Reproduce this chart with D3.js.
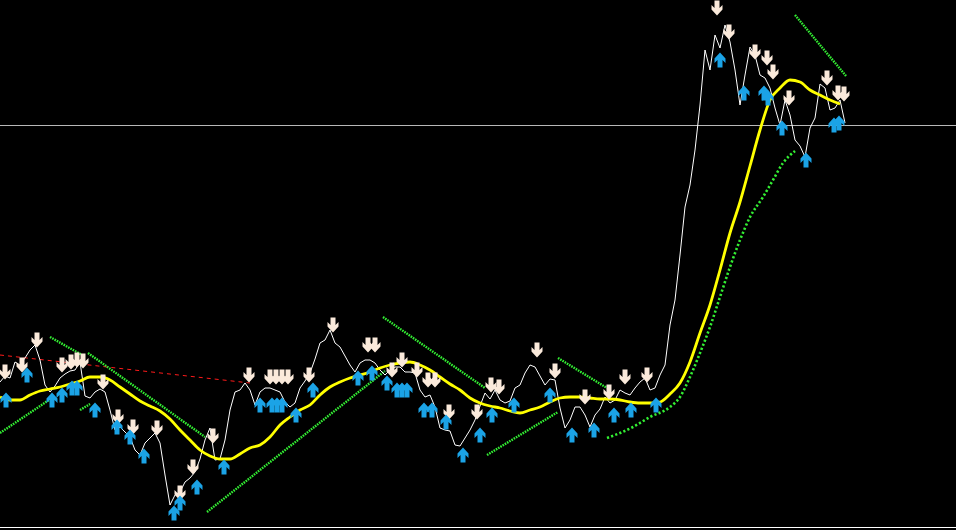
<!DOCTYPE html>
<html><head><meta charset="utf-8">
<script src="https://cdn.jsdelivr.net/npm/d3@7"></script>
<style>html,body{margin:0;padding:0;background:#000;overflow:hidden}</style>
</head><body>
<svg id="chart" width="956" height="530"></svg>
<script>
// Close prices (points), one per bar
const closes = [
145,151,149,165,162,169,177,182,167,142,
135,141,149,153,156,157,165,131,129,135,
138,135,117,97,100,95,90,77,72,84,
89,94,84,52,22,32,35,45,49,55,
68,87,99,67,68,87,117,135,137,144,
137,122,135,139,139,137,135,125,120,124,
139,146,154,168,184,187,197,184,180,171,
162,155,164,167,167,164,157,152,157,160,
160,155,155,154,137,130,132,120,99,97,
96,82,81,89,97,107,121,134,128,137,
127,124,126,139,142,154,162,160,151,142,
148,147,119,99,107,120,120,112,100,112,
118,130,124,127,137,134,132,139,145,149,
137,139,152,162,202,227,272,320,342,377,
422,477,457,492,479,502,485,457,422,452,
480,472,452,449,439,419,402,427,412,387,
381,370,399,409,443,439,417,419,427,404
];
// Moving average, one value every 2 bars
const maStep = 2;
const maValues = [
130,127,127,132,136,138,140,143,146,150,
150,147,140,133,126,121,116,108,97,87,
77,71,68,68,73,79,82,90,102,110,
117,122,132,140,145,149,152,155,159,162,
164,165,162,157,150,143,137,129,124,121,
119,116,114,117,120,125,129,130,130,129,
128,128,127,125,124,124,125,133,144,165,
194,222,257,294,325,361,397,427,439,447,
445,437,432,427,423
];
// Trend channel segments [bar, price]
const greenLines = [
  [[0,94],[10.4,129]],
  [[16,117],[18,123]],
  [[10,190],[16.4,172]],
  [[17.6,174],[41,90]],
  [[41.4,15],[77,156]],
  [[76.6,210],[97,139]],
  [[97.4,72],[111.6,115]],
  [[111.6,169],[121.4,139]],
  [[159,512],[169.2,451]]
];
const bandBars   = [121.4,126.6,130,134,136,138,140,142,144,146,148,150,152.6,154.6,156.6,159];
const bandValues = [89,100,110,120,130,150,174,200,230,260,287,310,330,347,364,376];
const redLine = [[0,172],[50,144]];
const levelPrice = 402;
// Signals [bar, price]
const downSignals = [
[1,155],[4.4,162],[7.4,187],[12.4,162],[14.2,165],[15.4,167],[16.6,166],[20.6,145],
[23.6,110],[26.6,100],[31.4,99],[36,34],[38.6,60],[42.6,91],[49.8,152],
[54,150],[55.2,150],[56.4,150],[57.6,150],[61.8,152],[66.6,202],[73.6,182],[75,182],
[78.4,157],[80.4,167],[83.4,157],[85.6,147],[87,147],[89.8,115],[95.4,115],
[98.2,142],[99.8,140],[107.4,177],[111,156],[117,130],[121.8,135],[125,150],[129.4,152],
[143.4,519],[145.8,495],[151,475],[153.4,469],[154.6,455],[157.8,429],[165.4,449],
[167.6,434],[168.8,433]
];
const upSignals = [
[1.2,127],[5.4,152],[10.4,127],[12.4,132],[14.4,139],[15.4,139],[19,117],[23.4,100],
[26,90],[28.8,71],[34.8,14],[36,24],[39.4,40],[44.8,60],[52,122],[54.4,122],[55.4,122],
[56.4,122],[59.2,112],[62.6,137],[71.6,149],[74.4,154],[77.4,144],[79.4,137],[80.4,137],
[81.4,137],[84.8,117],[86.4,117],[89.2,105],[92.6,72],[96,92],[98.4,112],[102.8,122],
[110,132],[114.4,92],[118.8,97],[122.8,112],[126.2,117],[131.2,122],
[144,467],[148.8,434],[152.8,434],[153.6,429],[156.4,399],[161.2,367],[166.8,402],[167.8,404]
];

const W = 956, H = 530, plotBottom = 527;
const svg = d3.select('#chart');
const x = d3.scaleLinear().domain([0, closes.length - 1]).range([0, 845]);
const y = d3.scaleLinear().domain([0, 527]).range([plotBottom, 0]);

// level line
svg.append('line').attr('x1',0).attr('x2',W).attr('y1',y(levelPrice)+0.5).attr('y2',y(levelPrice)+0.5)
  .attr('stroke','#b8b8b8').attr('stroke-width',1);
// bottom frame
svg.append('line').attr('x1',0).attr('x2',W).attr('y1',plotBottom+0.5).attr('y2',plotBottom+0.5)
  .attr('stroke','#ffffff').attr('stroke-width',1);

const seg = d3.line().x(d=>x(d[0])).y(d=>y(d[1]));
// red dashed
svg.append('path').attr('d', seg(redLine)).attr('fill','none')
  .attr('stroke','#ff1a1a').attr('stroke-width',1).attr('stroke-dasharray','4,4');

// green dotted
greenLines.forEach(l=>{
  svg.append('path').attr('d', seg(l)).attr('fill','none')
    .attr('stroke','#33ee33').attr('stroke-width',2.4).attr('stroke-dasharray','1.6,1');
});
svg.append('path').attr('d', d3.line().curve(d3.curveMonotoneX)
    .x((d,i)=>x(bandBars[i])).y(d=>y(d))(bandValues)).attr('fill','none')
  .attr('stroke','#33ee33').attr('stroke-width',2.6).attr('stroke-dasharray','2.2,2.2');

// price
svg.append('path').attr('d', d3.line().x((d,i)=>x(i)).y(d=>y(d))(closes))
  .attr('fill','none').attr('stroke','#ffffff').attr('stroke-width',1);

// MA
svg.append('path').attr('d', d3.line().curve(d3.curveMonotoneX)
    .x((d,i)=>x(i*maStep)).y(d=>y(d))(maValues))
  .attr('fill','none').attr('stroke','#ffff00').attr('stroke-width',2.8);

// arrows
const downPath = 'M-2.5,-7.5L2.5,-7.5L2.5,0L5.5,-3L5.5,1.5L0,7.5L-5.5,1.5L-5.5,-3L-2.5,0Z';
const upPath = 'M-2.5,7.5L2.5,7.5L2.5,0L5.5,3L5.5,-1.5L0,-7.5L-5.5,-1.5L-5.5,3L-2.5,0Z';
svg.selectAll('.dn').data(downSignals).enter().append('path').attr('class','dn')
  .attr('d', downPath).attr('transform', d=>`translate(${x(d[0])},${y(d[1])})`)
  .attr('fill','#fbeadb');
svg.selectAll('.up').data(upSignals).enter().append('path').attr('class','up')
  .attr('d', upPath).attr('transform', d=>`translate(${x(d[0])},${y(d[1])})`)
  .attr('fill','#1ba3e6');
</script>
</body></html>
